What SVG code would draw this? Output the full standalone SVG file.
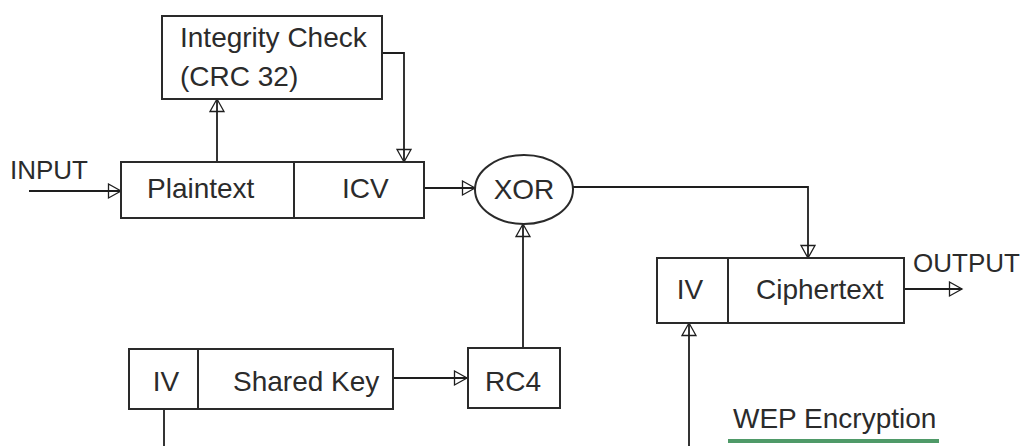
<svg xmlns="http://www.w3.org/2000/svg" width="1025" height="446" viewBox="0 0 1025 446">
<style>
.box{fill:#fff;stroke:#2a2a2a;stroke-width:2}
.div{stroke:#2a2a2a;stroke-width:2}
.t{font-family:"Liberation Sans",Arial,sans-serif;font-size:28px;fill:#2b2b2b}
.c{font-family:"Liberation Sans",Arial,sans-serif;font-size:26px;fill:#2b2b2b}
.m{text-anchor:middle}
.ln{fill:none;stroke:#1e1e1e;stroke-width:1.8;marker-end:url(#ah)}
.pl{fill:none;stroke:#1e1e1e;stroke-width:1.8}
</style>
<defs>
<marker id="ah" markerUnits="userSpaceOnUse" markerWidth="18" markerHeight="18" refX="14" refY="8" orient="auto">
<path d="M1.5,1 L14,8 L1.5,15 Z" fill="none" stroke="#1e1e1e" stroke-width="1.3"/>
</marker>
</defs>
<rect width="1025" height="446" fill="#fff"/>

<g id="connectors">
<path class="ln" d="M29,191 H121"/>
<path class="ln" d="M217,162 V99"/>
<path class="ln" d="M382,53 H404 V162"/>
<path class="ln" d="M424,188 H475"/>
<path class="ln" d="M573,187 H808 V258"/>
<path class="ln" d="M904,289 H962"/>
<path class="ln" d="M393,378 H467"/>
<path class="ln" d="M523,348 V224"/>
<path class="pl" d="M164,409 V446"/>
<path class="ln" d="M689,446 V323"/>
</g>

<g id="integrity-check">
<rect class="box" x="162" y="16" width="220" height="83"/>
<text class="t" x="180" y="47">Integrity Check</text>
<text class="t" x="180" y="86">(CRC 32)</text>
</g>

<g id="plaintext-frame">
<rect class="box" x="121" y="162" width="303" height="56"/>
<line class="div" x1="294" y1="162" x2="294" y2="218"/>
<text class="t" x="147" y="198">Plaintext</text>
<text class="t" x="342" y="198">ICV</text>
</g>

<g id="xor">
<ellipse class="box" cx="524" cy="189.5" rx="49" ry="34.5"/>
<text class="t m" x="524" y="199">XOR</text>
</g>

<g id="ciphertext-frame">
<rect class="box" x="657" y="258" width="247" height="65"/>
<line class="div" x1="728" y1="258" x2="728" y2="323"/>
<text class="t m" x="690" y="299">IV</text>
<text class="t" x="756" y="299">Ciphertext</text>
</g>

<g id="shared-key-frame">
<rect class="box" x="129" y="349" width="264" height="60"/>
<line class="div" x1="198" y1="349" x2="198" y2="409"/>
<text class="t m" x="166" y="391">IV</text>
<text class="t" x="233" y="391">Shared Key</text>
</g>

<g id="rc4">
<rect class="box" x="468" y="348" width="92" height="60"/>
<text class="t m" x="513" y="391">RC4</text>
</g>

<g id="labels">
<text class="c" x="10" y="179">INPUT</text>
<text class="c" x="913" y="272">OUTPUT</text>
<text class="t" x="733" y="428">WEP Encryption</text>
<rect x="728" y="439" width="211" height="4" fill="#4f9a68"/>
</g>
</svg>
